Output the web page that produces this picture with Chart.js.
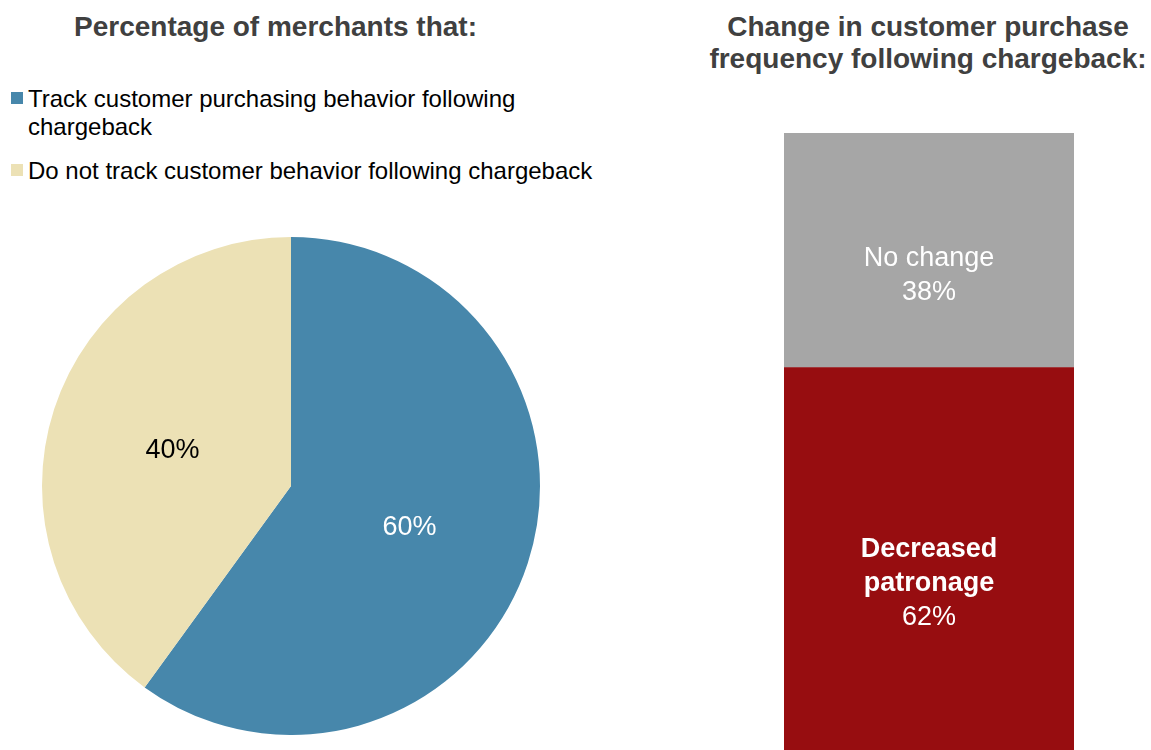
<!DOCTYPE html>
<html>
<head>
<meta charset="utf-8">
<script src="https://cdn.jsdelivr.net/npm/chart.js@4/dist/chart.umd.min.js"></script>
<style>
  html, body { margin: 0; padding: 0; background: #fff; }
  body { width: 1151px; height: 750px; position: relative; overflow: hidden;
         font-family: "Liberation Sans", Arial, sans-serif; }
  .title { position: absolute; font-weight: bold; font-size: 28px; color: #404040;
           text-align: center; line-height: 32px; white-space: nowrap; }
  .legend { position: absolute; left: 11px; top: 85px; width: 590px; font-size: 24px;
            line-height: 28px; color: #000; }
  .legend .item { position: relative; padding-left: 17px; margin-bottom: 16px; }
  .legend .swatch { position: absolute; left: 0; top: 7px; width: 12px; height: 12px; }
  canvas { position: absolute; }
</style>
</head>
<body>
<div class="title" style="left:74px; top:11px; width:400px;">Percentage of merchants that:</div>
<div class="title" style="left:688px; top:11px; width:480px;">Change in customer purchase<br>frequency following chargeback:</div>
<div class="legend" id="legend"></div>

<canvas id="pieChart" width="498" height="498" style="left:42px; top:237px;"></canvas>
<canvas id="barChart" width="290" height="617" style="left:784px; top:133px;"></canvas>

<script>
// tracking split (pie)
const trackLabels = ['Track customer purchasing behavior following chargeback',
                     'Do not track customer behavior following chargeback'];
const trackValues = [60, 40];
const trackColors = ['#4787ab', '#ece1b5'];
const trackTextColors = ['#ffffff', '#000000'];

// purchase frequency after chargeback (stacked bar), bottom segment first
const freqLabels = [['Decreased', 'patronage'], ['No change']];
const freqValues = [62, 38];
const freqColors = ['#970d10', '#a6a6a6'];
const freqBold = [true, false];

const labelFont = '"Liberation Sans", Arial, sans-serif';

// legend for the pie
const legendEl = document.getElementById('legend');
trackLabels.forEach(function (lbl, i) {
    const item = document.createElement('div');
    item.className = 'item';
    item.innerHTML = '<span class="swatch" style="background:' + trackColors[i] + '"></span>' +
        lbl.replace(' following chargeback', i === 0 ? ' following<br>chargeback' : ' following chargeback');
    legendEl.appendChild(item);
});

const pieLabels = {
    id: 'pieLabels',
    afterDatasetsDraw: function (chart) {
        const ctx = chart.ctx;
        const meta = chart.getDatasetMeta(0);
        ctx.save();
        ctx.font = '27px ' + labelFont;
        ctx.textAlign = 'center';
        ctx.textBaseline = 'middle';
        meta.data.forEach(function (arc, i) {
            const p = arc.tooltipPosition();
            ctx.fillStyle = trackTextColors[i];
            ctx.fillText(trackValues[i] + '%', p.x, p.y + 3);
        });
        ctx.restore();
    }
};

new Chart(document.getElementById('pieChart'), {
    type: 'pie',
    data: {
        labels: trackLabels,
        datasets: [{
            data: trackValues,
            backgroundColor: trackColors,
            borderWidth: 0
        }]
    },
    options: {
        responsive: false,
        animation: false,
        devicePixelRatio: 1,
        layout: { padding: 0 },
        plugins: { legend: { display: false }, tooltip: { enabled: false } }
    },
    plugins: [pieLabels]
});

const barLabels = {
    id: 'barLabels',
    afterDatasetsDraw: function (chart) {
        const ctx = chart.ctx;
        const lineH = 34;
        ctx.save();
        ctx.textAlign = 'center';
        ctx.textBaseline = 'middle';
        ctx.fillStyle = '#ffffff';
        chart.data.datasets.forEach(function (ds, i) {
            const bar = chart.getDatasetMeta(i).data[0];
            const lines = freqLabels[i].map(function (t) { return { t: t, bold: freqBold[i] }; });
            lines.push({ t: freqValues[i] + '%', bold: false });
            const mid = (bar.y + bar.base) / 2 + 25;
            const start = mid - (lines.length - 1) * lineH / 2;
            lines.forEach(function (l, k) {
                ctx.font = (l.bold ? 'bold ' : '') + '27px ' + labelFont;
                ctx.fillText(l.t, bar.x, start + k * lineH);
            });
        });
        ctx.restore();
    }
};

new Chart(document.getElementById('barChart'), {
    type: 'bar',
    data: {
        labels: [''],
        datasets: freqValues.map(function (v, i) {
            return {
                label: freqLabels[i].join(' '),
                data: [v],
                backgroundColor: freqColors[i],
                borderWidth: 0,
                barPercentage: 1,
                categoryPercentage: 1
            };
        })
    },
    options: {
        responsive: false,
        animation: false,
        devicePixelRatio: 1,
        layout: { padding: 0 },
        plugins: { legend: { display: false }, tooltip: { enabled: false } },
        scales: {
            x: { stacked: true, display: false },
            y: { stacked: true, display: false, min: 0, max: 100 }
        }
    },
    plugins: [barLabels]
});
</script>
</body>
</html>
